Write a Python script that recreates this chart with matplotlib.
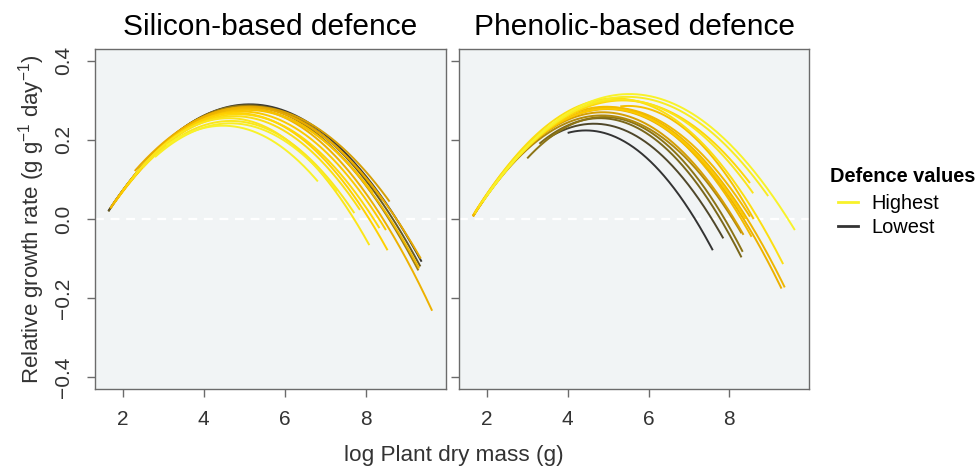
import numpy as np
import matplotlib
matplotlib.use("Agg")
import matplotlib.pyplot as plt
from matplotlib.colors import LinearSegmentedColormap
from matplotlib.lines import Line2D

plt.rcParams['font.family'] = ['Liberation Sans', 'DejaVu Sans']
plt.rcParams['mathtext.default'] = 'regular'

# defence value (1 = highest, 0 = lowest), curve start, peak and end
sil_defence = [0.02, 0.15, 0.30, 0.55, 0.45, 0.60, 0.65, 0.70, 0.75, 0.80, 0.85, 0.90, 0.92, 0.97, 1.00, 0.50, 0.40]
sil_x_start = [1.65, 1.65, 1.70, 1.70, 1.75, 1.70, 1.80, 1.90, 2.00, 2.10, 2.20, 2.30, 2.50, 2.80, 3.08, 2.30, 1.80]
sil_x_peak = [5.14, 5.10, 5.05, 4.98, 5.20, 5.06, 5.08, 4.93, 4.81, 4.86, 4.77, 4.62, 4.67, 4.66, 4.48, 5.08, 5.13]
sil_y_peak = [0.290, 0.288, 0.286, 0.281, 0.284, 0.279, 0.276, 0.272, 0.268, 0.265, 0.260, 0.255, 0.248, 0.242, 0.236, 0.283, 0.283]
sil_x_end = [9.38, 9.35, 9.30, 9.64, 8.59, 9.32, 8.18, 8.50, 8.54, 8.34, 7.86, 8.09, 7.72, 7.30, 6.82, 9.36, 8.42]
sil_y_end = [-0.108, -0.120, -0.130, -0.232, 0.044, -0.125, 0.066, -0.028, -0.079, -0.023, 0.023, -0.066, 0.015, 0.070, 0.095, -0.100, 0.048]

phe_defence = [0.00, 0.08, 0.20, 0.25, 0.35, 0.45, 0.55, 0.58, 0.60, 0.62, 0.65, 0.90, 0.95, 1.00, 0.85, 0.80, 0.70]
phe_x_start = [4.00, 3.54, 3.30, 3.00, 1.66, 1.66, 1.66, 1.66, 1.66, 1.66, 5.30, 1.80, 1.90, 2.00, 1.70, 2.20, 1.70]
phe_x_peak = [4.45, 4.65, 4.80, 4.90, 4.85, 4.87, 4.98, 5.03, 5.08, 4.95, 5.50, 5.31, 5.48, 5.53, 5.17, 5.37, 5.00]
phe_y_peak = [0.224, 0.241, 0.255, 0.258, 0.262, 0.270, 0.278, 0.281, 0.282, 0.284, 0.286, 0.302, 0.309, 0.316, 0.305, 0.300, 0.279]
phe_x_end = [7.59, 7.85, 8.30, 8.33, 8.30, 8.35, 9.29, 9.37, 8.51, 8.55, 8.60, 8.59, 8.96, 9.62, 9.33, 8.51, 8.40]
phe_y_end = [-0.079, -0.049, -0.097, -0.083, -0.036, -0.040, -0.176, -0.173, 0.006, -0.045, 0.000, 0.065, 0.058, -0.028, -0.114, 0.091, 0.000]

titles = ["Silicon-based defence", "Phenolic-based defence"]

cmap = LinearSegmentedColormap.from_list(
    "defence", ["#333333", "#8c7415", "#e8aa00", "#ffd000", "#f8f22a"])

fig = plt.figure(figsize=(9.77, 4.70), dpi=100)
ax1 = fig.add_axes([95 / 977, 81 / 470, 350.5 / 977, 340 / 470])
ax2 = fig.add_axes([459.3 / 977, 81 / 470, 349.7 / 977, 340 / 470])

panels = [
    (ax1, sil_defence, sil_x_start, sil_x_peak, sil_y_peak, sil_x_end, sil_y_end),
    (ax2, phe_defence, phe_x_start, phe_x_peak, phe_y_peak, phe_x_end, phe_y_end),
]

for i, (ax, dd, xs, xp, yp, xe, ye) in enumerate(panels):
    ax.set_facecolor("#f1f4f5")
    ax.axhline(0, color="white", lw=1.6, ls=(0, (4, 3)), zorder=1)
    order = np.argsort(dd)
    for k in order:
        # each fitted curve is a parabola through its peak and end point
        a = (yp[k] - ye[k]) / (xe[k] - xp[k]) ** 2
        x = np.linspace(xs[k], xe[k], 200)
        y = yp[k] - a * (x - xp[k]) ** 2
        ax.plot(x, y, color=cmap(dd[k]), lw=1.4, solid_capstyle="butt", zorder=2)
    ax.set_xlim(1.32, 9.97)
    ax.set_ylim(-0.43, 0.43)
    ax.set_xticks([2, 4, 6, 8])
    ax.set_yticks([-0.4, -0.2, 0.0, 0.2, 0.4])
    for s in ax.spines.values():
        s.set_color("#6b6b6b")
        s.set_linewidth(1.0)
    ax.tick_params(axis="both", direction="out", color="#6b6b6b", length=6,
                   width=1.0, labelsize=15, labelcolor="#333333")
    ax.tick_params(axis="x", pad=9)
    ax.tick_params(axis="y", pad=10)
    ax.set_title(titles[i], fontsize=21.5, pad=10)
    if i == 0:
        ax.set_yticklabels(["\u22120.4", "\u22120.2", "0.0", "0.2", "0.4"],
                           rotation=90, va="center")
        ax.set_ylabel("Relative growth rate (g g$^{-1}$ day$^{-1}$)", fontsize=16,
                      color="#333333", labelpad=5)
    else:
        ax.set_yticklabels([])

fig.text(454 / 977, 1 - 455 / 470, "log Plant dry mass (g)", ha="center",
         va="center", fontsize=16.2, color="#333333")

fig.text(830 / 977, 1 - 177 / 470, "Defence values", ha="left", va="center",
         fontsize=14.4, fontweight="bold")
handles = [Line2D([], [], color=cmap(1.0), lw=2), Line2D([], [], color=cmap(0.0), lw=2)]
leg = fig.legend(handles, ["Highest", "Lowest"],
                 loc="upper left", bbox_to_anchor=(838 / 977, 1 - 194 / 470),
                 frameon=False, fontsize=14.4, handlelength=1.0, handletextpad=0.65,
                 labelspacing=0.25, borderaxespad=0, borderpad=0)

fig.savefig("out.png", dpi=100)
